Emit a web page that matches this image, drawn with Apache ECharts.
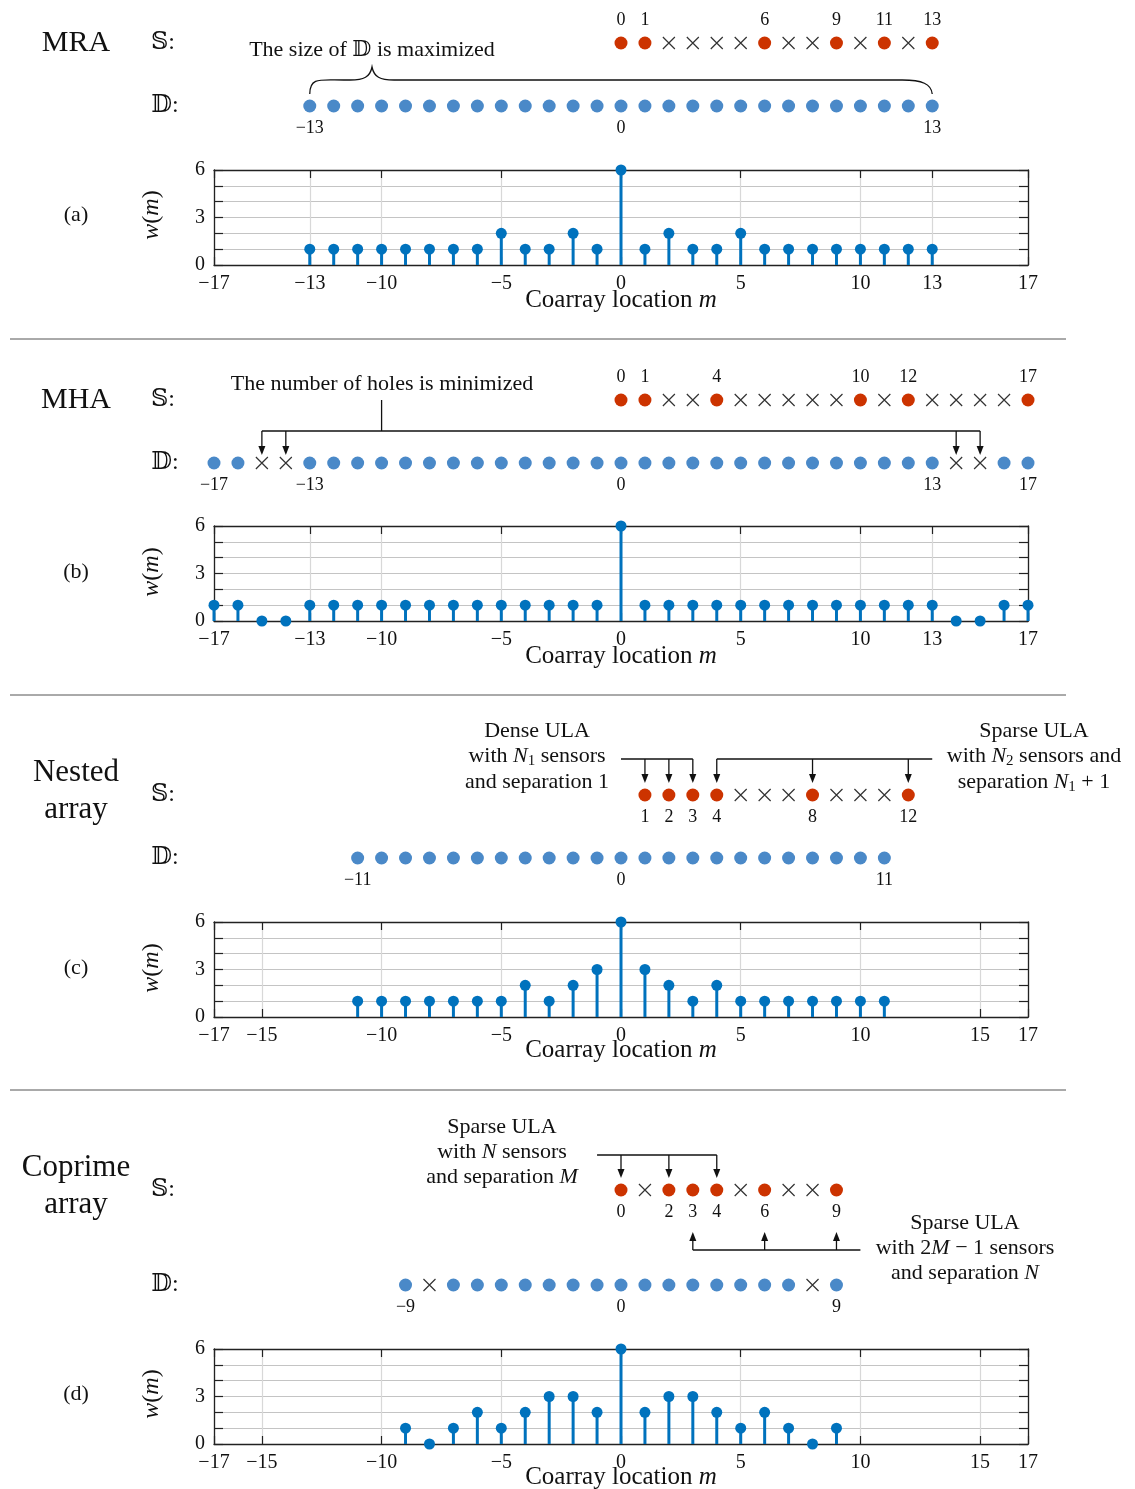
<!DOCTYPE html>
<html>
<head>
<meta charset="utf-8">
<script src="https://cdn.jsdelivr.net/npm/echarts@6/dist/echarts.min.js"></script>
<style>
  html, body { margin: 0; padding: 0; background: #fff; }
  #main { width: 1135px; height: 1489px; }
</style>
</head>
<body>
<div id="main"></div>
<script>
// ---- (a) MRA ----
const mraSensors = [0, 1, 6, 9, 11, 13];
const mraSensorHoles = [2, 3, 4, 5, 7, 8, 10, 12];
const mraSensorTicks = [0, 1, 6, 9, 11, 13];
const mraCoarray = [-13, -12, -11, -10, -9, -8, -7, -6, -5, -4, -3, -2, -1, 0, 1, 2, 3, 4, 5, 6, 7, 8, 9, 10, 11, 12, 13];
const mraCoarrayHoles = [];
const mraCoarrayTicks = [-13, 0, 13];
const mraLags = [-13, -12, -11, -10, -9, -8, -7, -6, -5, -4, -3, -2, -1, 0, 1, 2, 3, 4, 5, 6, 7, 8, 9, 10, 11, 12, 13];
const mraWeights = [1, 1, 1, 1, 1, 1, 1, 1, 2, 1, 1, 2, 1, 6, 1, 2, 1, 1, 2, 1, 1, 1, 1, 1, 1, 1, 1];
const mraAxisTicks = [-17, -13, -10, -5, 0, 5, 10, 13, 17];

// ---- (b) MHA ----
const mhaSensors = [0, 1, 4, 10, 12, 17];
const mhaSensorHoles = [2, 3, 5, 6, 7, 8, 9, 11, 13, 14, 15, 16];
const mhaSensorTicks = [0, 1, 4, 10, 12, 17];
const mhaCoarray = [-17, -16, -13, -12, -11, -10, -9, -8, -7, -6, -5, -4, -3, -2, -1, 0, 1, 2, 3, 4, 5, 6, 7, 8, 9, 10, 11, 12, 13, 16, 17];
const mhaCoarrayHoles = [-15, -14, 14, 15];
const mhaCoarrayTicks = [-17, -13, 0, 13, 17];
const mhaLags = [-17, -16, -15, -14, -13, -12, -11, -10, -9, -8, -7, -6, -5, -4, -3, -2, -1, 0, 1, 2, 3, 4, 5, 6, 7, 8, 9, 10, 11, 12, 13, 14, 15, 16, 17];
const mhaWeights = [1, 1, 0, 0, 1, 1, 1, 1, 1, 1, 1, 1, 1, 1, 1, 1, 1, 6, 1, 1, 1, 1, 1, 1, 1, 1, 1, 1, 1, 1, 1, 0, 0, 1, 1];
const mhaAxisTicks = [-17, -13, -10, -5, 0, 5, 10, 13, 17];

// ---- (c) Nested ----
const nestedSensors = [1, 2, 3, 4, 8, 12];
const nestedSensorHoles = [5, 6, 7, 9, 10, 11];
const nestedSensorTicks = [1, 2, 3, 4, 8, 12];
const nestedCoarray = [-11, -10, -9, -8, -7, -6, -5, -4, -3, -2, -1, 0, 1, 2, 3, 4, 5, 6, 7, 8, 9, 10, 11];
const nestedCoarrayHoles = [];
const nestedCoarrayTicks = [-11, 0, 11];
const nestedLags = [-11, -10, -9, -8, -7, -6, -5, -4, -3, -2, -1, 0, 1, 2, 3, 4, 5, 6, 7, 8, 9, 10, 11];
const nestedWeights = [1, 1, 1, 1, 1, 1, 1, 2, 1, 2, 3, 6, 3, 2, 1, 2, 1, 1, 1, 1, 1, 1, 1];
const nestedAxisTicks = [-17, -15, -10, -5, 0, 5, 10, 15, 17];

// ---- (d) Coprime ----
const coprimeSensors = [0, 2, 3, 4, 6, 9];
const coprimeSensorHoles = [1, 5, 7, 8];
const coprimeSensorTicks = [0, 2, 3, 4, 6, 9];
const coprimeCoarray = [-9, -7, -6, -5, -4, -3, -2, -1, 0, 1, 2, 3, 4, 5, 6, 7, 9];
const coprimeCoarrayHoles = [-8, 8];
const coprimeCoarrayTicks = [-9, 0, 9];
const coprimeLags = [-9, -8, -7, -6, -5, -4, -3, -2, -1, 0, 1, 2, 3, 4, 5, 6, 7, 8, 9];
const coprimeWeights = [1, 0, 1, 2, 1, 2, 3, 3, 2, 6, 2, 3, 3, 2, 1, 2, 1, 0, 1];
const coprimeAxisTicks = [-17, -15, -10, -5, 0, 5, 10, 15, 17];

const FONT = "'Liberation Serif', 'DejaVu Serif', 'DejaVu Sans', serif";
const INK = '#111';
const RED = '#CC3300';
const DOT_BLUE = '#4A89C8';
const STEM_BLUE = '#0072BD';
const CROSS = 'path://M0,0L10,10M10,0L0,10';

const fmtNum = v => (v < 0 ? '\u2212' + (-v) : '' + v);

// annotation drawing helpers (pixel space, anchored on data coords)
function seg(x1, y1, x2, y2) {
  return { type: 'line', shape: { x1, y1, x2, y2 }, style: { stroke: INK, lineWidth: 1.3 } };
}
function arrow(x, yFrom, yTip) {
  const d = yTip > yFrom ? 1 : -1;
  return [
    seg(x, yFrom, x, yTip - d * 6),
    { type: 'polygon', shape: { points: [[x, yTip], [x - 3.5, yTip - d * 9], [x + 3.5, yTip - d * 9]] }, style: { fill: INK } }
  ];
}

const annotations = [
  // (a) brace under the text
  api => {
    const X = m => api.coord([m, 0])[0];
    const yD = api.coord([0, 0])[1];
    const x0 = X(-13), x1 = X(13), xt = X(-10.4);
    const yH = yD - 26, yE = yD - 12, yT = yD - 39;
    const d = `M${x0},${yE} C${x0},${yH - 3} ${x0 + 10},${yH} ${x0 + 34},${yH} L${xt - 22},${yH} ` +
      `C${xt - 8},${yH} ${xt - 2},${yH - 3} ${xt},${yT} C${xt + 2},${yH - 3} ${xt + 8},${yH} ${xt + 22},${yH} ` +
      `L${x1 - 30},${yH} C${x1 - 10},${yH} ${x1 - 1},${yH + 4} ${x1},${yE}`;
    return [{ type: 'path', shape: { pathData: d }, style: { fill: 'none', stroke: INK, lineWidth: 1.3 } }];
  },
  // (b) holes bracket
  api => {
    const X = m => api.coord([m, 0])[0];
    const yD = api.coord([0, 0])[1], yS = api.coord([0, 1])[1];
    const yL = yD - 32;
    let out = [seg(X(-10), yS, X(-10), yL), seg(X(-15), yL, X(15), yL)];
    [-15, -14, 14, 15].forEach(m => { out = out.concat(arrow(X(m), yL, yD - 8)); });
    return out;
  },
  // (c) dense / sparse brackets
  api => {
    const X = m => api.coord([m, 0])[0];
    const yS = api.coord([0, 1])[1];
    const yL = yS - 36;
    let out = [seg(X(0), yL, X(3), yL), seg(X(4), yL, X(13), yL)];
    [1, 2, 3, 4, 8, 12].forEach(m => { out = out.concat(arrow(X(m), yL, yS - 12)); });
    return out;
  },
  // (d) two sparse ULAs
  api => {
    const X = m => api.coord([m, 0])[0];
    const yS = api.coord([0, 1])[1];
    const yU = yS - 35, yB = yS + 60;
    let out = [seg(X(-1), yU, X(4), yU), seg(X(3), yB, X(10), yB)];
    [0, 2, 4].forEach(m => { out = out.concat(arrow(X(m), yU, yS - 12)); });
    [3, 6, 9].forEach(m => { out = out.concat(arrow(X(m), yB, yS + 42)); });
    return out;
  }
];

const panels = [
  { sensors: mraSensors, sensorHoles: mraSensorHoles, sensorTicks: mraSensorTicks, sLabelPos: 'top',
    coarray: mraCoarray, coarrayHoles: mraCoarrayHoles, coarrayTicks: mraCoarrayTicks,
    lags: mraLags, weights: mraWeights, axisTicks: mraAxisTicks, sY: 43, dY: 106, plotTop: 170 },
  { sensors: mhaSensors, sensorHoles: mhaSensorHoles, sensorTicks: mhaSensorTicks, sLabelPos: 'top',
    coarray: mhaCoarray, coarrayHoles: mhaCoarrayHoles, coarrayTicks: mhaCoarrayTicks,
    lags: mhaLags, weights: mhaWeights, axisTicks: mhaAxisTicks, sY: 400, dY: 463, plotTop: 526 },
  { sensors: nestedSensors, sensorHoles: nestedSensorHoles, sensorTicks: nestedSensorTicks, sLabelPos: 'bottom',
    coarray: nestedCoarray, coarrayHoles: nestedCoarrayHoles, coarrayTicks: nestedCoarrayTicks,
    lags: nestedLags, weights: nestedWeights, axisTicks: nestedAxisTicks, sY: 795, dY: 858, plotTop: 922 },
  { sensors: coprimeSensors, sensorHoles: coprimeSensorHoles, sensorTicks: coprimeSensorTicks, sLabelPos: 'bottom',
    coarray: coprimeCoarray, coarrayHoles: coprimeCoarrayHoles, coarrayTicks: coprimeCoarrayTicks,
    lags: coprimeLags, weights: coprimeWeights, axisTicks: coprimeAxisTicks, sY: 1190, dY: 1285, plotTop: 1349 }
];

const option = { animation: false, grid: [], xAxis: [], yAxis: [], series: [], graphic: [] };
const axisLineStyle = { color: '#222', width: 1.3 };

panels.forEach((p, k) => {
  const g = option.grid.length;
  option.grid.push({ left: 214, width: 814, top: p.sY, height: p.dY - p.sY });
  option.grid.push({ left: 214, width: 814, top: p.plotTop, height: 95 });

  const xi = option.xAxis.length;
  option.xAxis.push({ gridIndex: g, type: 'value', min: -17, max: 17, show: false });
  option.xAxis.push({
    gridIndex: g + 1, type: 'value', min: -17, max: 17, position: 'bottom',
    axisLine: { show: true, onZero: false, lineStyle: axisLineStyle },
    axisTick: { show: true, inside: true, length: 8, customValues: p.axisTicks, lineStyle: { color: '#222', width: 1.2 } },
    axisLabel: { show: true, customValues: p.axisTicks, margin: 9, color: INK, fontSize: 20, fontFamily: FONT,
      showMinLabel: true, showMaxLabel: true, formatter: fmtNum },
    splitLine: { show: true, lineStyle: { color: '#d8d8d8', width: 1.2 } }
  });
  option.xAxis.push({
    gridIndex: g + 1, type: 'value', min: -17, max: 17, position: 'top',
    axisLine: { show: true, onZero: false, lineStyle: axisLineStyle },
    axisTick: { show: true, inside: true, length: 8, customValues: p.axisTicks, lineStyle: { color: '#222', width: 1.2 } },
    axisLabel: { show: false }, splitLine: { show: false }
  });

  const yi = option.yAxis.length;
  option.yAxis.push({ gridIndex: g, type: 'value', min: 0, max: 1, show: false });
  option.yAxis.push({
    gridIndex: g + 1, type: 'value', min: 0, max: 6, interval: 1, position: 'left',
    axisLine: { show: true, onZero: false, lineStyle: axisLineStyle },
    axisTick: { show: true, inside: true, length: 9, lineStyle: { color: '#222', width: 1.2 } },
    axisLabel: { margin: 9, color: INK, fontSize: 20, fontFamily: FONT, formatter: v => (v % 3 === 0 ? '' + v : '') },
    splitLine: { show: true, lineStyle: { color: '#c4c4c4', width: 1.2 } }
  });
  option.yAxis.push({
    gridIndex: g + 1, type: 'value', min: 0, max: 6, interval: 1, position: 'right',
    axisLine: { show: true, onZero: false, lineStyle: axisLineStyle },
    axisTick: { show: true, inside: true, length: 9, lineStyle: { color: '#222', width: 1.2 } },
    axisLabel: { show: false }, splitLine: { show: false }
  });

  const sLabel = (ticks, pos) => ({
    show: true, position: pos, distance: 7, color: INK, fontSize: 18, fontFamily: FONT,
    formatter: q => (ticks.includes(q.value[0]) ? fmtNum(q.value[0]) : '')
  });

  // sensor row
  option.series.push({
    type: 'scatter', xAxisIndex: xi, yAxisIndex: yi, clip: false, silent: true,
    symbolSize: 13, itemStyle: { color: RED, opacity: 1 },
    label: sLabel(p.sensorTicks, p.sLabelPos),
    data: p.sensors.map(x => [x, 1])
  });
  option.series.push({
    type: 'scatter', xAxisIndex: xi, yAxisIndex: yi, clip: false, silent: true,
    symbol: CROSS, symbolSize: 12, itemStyle: { color: 'transparent', borderColor: '#333', borderWidth: 1.2, opacity: 1 },
    data: p.sensorHoles.map(x => [x, 1])
  });
  // difference coarray row
  option.series.push({
    type: 'scatter', xAxisIndex: xi, yAxisIndex: yi, clip: false, silent: true,
    symbolSize: 13, itemStyle: { color: DOT_BLUE, opacity: 1 },
    label: sLabel(p.coarrayTicks, 'bottom'),
    data: p.coarray.map(x => [x, 0])
  });
  option.series.push({
    type: 'scatter', xAxisIndex: xi, yAxisIndex: yi, clip: false, silent: true,
    symbol: CROSS, symbolSize: 12, itemStyle: { color: 'transparent', borderColor: '#333', borderWidth: 1.2, opacity: 1 },
    data: p.coarrayHoles.map(x => [x, 0])
  });
  // annotations
  option.series.push({
    type: 'custom', xAxisIndex: xi, yAxisIndex: yi, clip: false, silent: true, z: 5,
    data: [[0, 0]],
    renderItem: (params, api) => ({ type: 'group', children: annotations[k](api) })
  });
  // weight function stems
  const stem = p.lags.map((m, i) => [m, p.weights[i]]);
  option.series.push({
    type: 'bar', xAxisIndex: xi + 1, yAxisIndex: yi + 1, silent: true,
    barWidth: 3, itemStyle: { color: STEM_BLUE, opacity: 1 }, data: stem
  });
  option.series.push({
    type: 'scatter', xAxisIndex: xi + 1, yAxisIndex: yi + 1, clip: false, silent: true, z: 4,
    symbolSize: 11, itemStyle: { color: STEM_BLUE, opacity: 1 }, data: stem
  });
});

// texts
function txt(x, y, text, size, extra) {
  const base = { fontSize: size, fontFamily: FONT, fill: INK, lineHeight: 26 };
  return {
    type: 'text', x, y, silent: true, rotation: (extra && extra.rotation) || 0,
    style: Object.assign({
      text, align: 'center', verticalAlign: 'middle', textAlign: 'center', textVerticalAlign: 'middle',
      rich: {
        i: Object.assign({}, base, { fontStyle: 'italic' }),
        s: { fontSize: 15, fontFamily: FONT, fill: INK, lineHeight: 7, verticalAlign: 'bottom' }
      }
    }, base)
  };
}

const texts = [
  // (a)
  txt(76, 43, 'MRA', 30), txt(163, 43, '\u{1D54A}:', 24), txt(165, 106, '\u{1D53B}:', 24),
  txt(372, 50, 'The size of \u{1D53B} is maximized', 22),
  txt(76, 215, '(a)', 22), txt(152, 215, '{i|w}({i|m})', 24, { rotation: Math.PI / 2 }),
  txt(621, 300, 'Coarray location {i|m}', 25),
  // (b)
  txt(76, 400, 'MHA', 30), txt(163, 400, '\u{1D54A}:', 24), txt(165, 463, '\u{1D53B}:', 24),
  txt(382, 384, 'The number of holes is minimized', 22),
  txt(76, 572, '(b)', 22), txt(152, 572, '{i|w}({i|m})', 24, { rotation: Math.PI / 2 }),
  txt(621, 656, 'Coarray location {i|m}', 25),
  // (c)
  txt(76, 773, 'Nested', 31), txt(76, 810, 'array', 31),
  txt(163, 795, '\u{1D54A}:', 24), txt(165, 858, '\u{1D53B}:', 24),
  txt(537, 731, 'Dense ULA', 22), txt(537, 756, 'with {i|N}{s|1} sensors', 22), txt(537, 782, 'and separation 1', 22),
  txt(1034, 731, 'Sparse ULA', 22), txt(1034, 756, 'with {i|N}{s|2} sensors and', 22), txt(1034, 782, 'separation {i|N}{s|1} + 1', 22),
  txt(76, 968, '(c)', 22), txt(152, 968, '{i|w}({i|m})', 24, { rotation: Math.PI / 2 }),
  txt(621, 1050, 'Coarray location {i|m}', 25),
  // (d)
  txt(76, 1168, 'Coprime', 31), txt(76, 1205, 'array', 31),
  txt(163, 1190, '\u{1D54A}:', 24), txt(165, 1285, '\u{1D53B}:', 24),
  txt(502, 1127, 'Sparse ULA', 22), txt(502, 1152, 'with {i|N} sensors', 22), txt(502, 1177, 'and separation {i|M}', 22),
  txt(965, 1223, 'Sparse ULA', 22), txt(965, 1248, 'with 2{i|M} \u2212 1 sensors', 22), txt(965, 1273, 'and separation {i|N}', 22),
  txt(76, 1394, '(d)', 22), txt(152, 1394, '{i|w}({i|m})', 24, { rotation: Math.PI / 2 }),
  txt(621, 1477, 'Coarray location {i|m}', 25)
];

const separators = [339, 695, 1090].map(y => ({
  type: 'line', silent: true, shape: { x1: 10, y1: y, x2: 1066, y2: y }, style: { stroke: '#555', lineWidth: 1 }
}));

option.graphic = { elements: texts.concat(separators) };

const chart = echarts.init(document.getElementById('main'), null, { renderer: 'canvas' });
chart.setOption(option);
</script>
</body>
</html>
